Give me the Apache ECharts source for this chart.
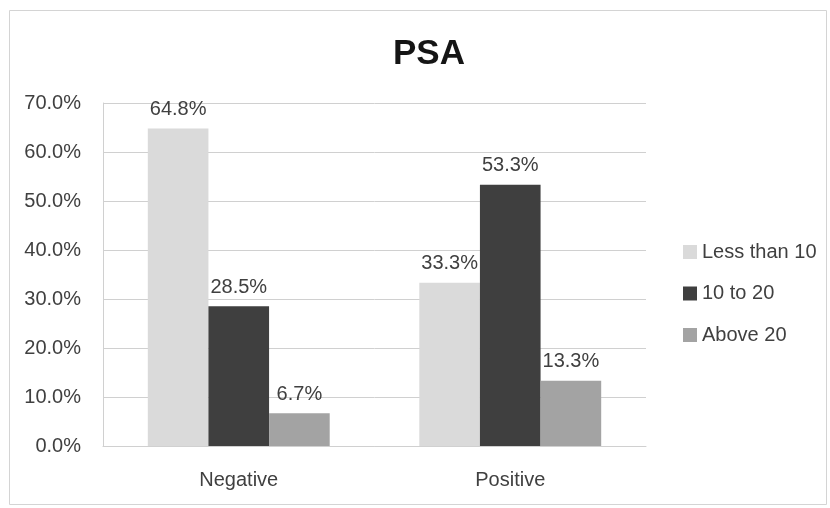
<!DOCTYPE html>
<html>
<head>
<meta charset="utf-8">
<script src="https://cdn.jsdelivr.net/npm/echarts@6/dist/echarts.min.js"></script>
<style>
  html, body { margin: 0; padding: 0; background: #fff; }
  #chart { width: 830px; height: 508px; }
</style>
</head>
<body>
<div id="chart"></div>
<script>
// PSA level distribution by test result
const categories = ['Negative', 'Positive'];
const seriesNames = ['Less than 10', '10 to 20', 'Above 20'];
const lessThan10 = [64.8, 33.3];
const tenTo20 = [28.5, 53.3];
const above20 = [6.7, 13.3];
const yTicks = [0, 10, 20, 30, 40, 50, 60, 70];

const colors = ['#dadada', '#3f3f3f', '#a3a3a3'];
const textColor = '#404040';
const font = '"Liberation Sans", Arial, sans-serif';

const values = [lessThan10, tenTo20, above20];

const chart = echarts.init(document.getElementById('chart'), null, { renderer: 'canvas' });

chart.setOption({
  animation: false,
  backgroundColor: '#ffffff',
  title: {
    text: 'PSA',
    left: 424,
    top: 32,
    textAlign: 'center',
    textStyle: { fontFamily: font, fontWeight: 'bold', fontSize: 35, color: '#151515' }
  },
  graphic: [{
    type: 'rect',
    shape: { x: 9.5, y: 10.5, width: 817, height: 494 },
    style: { fill: 'none', stroke: '#d4d4d4', lineWidth: 1 },
    silent: true
  }],
  legend: {
    orient: 'vertical',
    left: 683,
    top: 242,
    padding: 0,
    itemWidth: 14,
    itemHeight: 14,
    itemGap: 21.5,
    icon: 'rect',
    textStyle: { fontFamily: font, fontSize: 20, color: textColor },
    data: seriesNames
  },
  grid: { left: 103, right: 184, top: 103, bottom: 62, containLabel: false },
  xAxis: {
    type: 'category',
    data: categories,
    axisLine: { show: true, lineStyle: { color: '#d0d0d0', width: 1 } },
    axisTick: { show: false },
    axisLabel: { fontFamily: font, fontSize: 20, color: textColor, margin: 24 }
  },
  yAxis: {
    type: 'value',
    min: yTicks[0],
    max: yTicks[yTicks.length - 1],
    interval: 10,
    axisLine: { show: true, lineStyle: { color: '#d0d0d0', width: 1 } },
    axisTick: { show: false },
    splitLine: { lineStyle: { color: '#d0d0d0', width: 1 } },
    axisLabel: {
      fontFamily: font, fontSize: 20, color: textColor, margin: 22,
      formatter: v => v.toFixed(1) + '%'
    }
  },
  series: seriesNames.map((name, i) => ({
    name,
    type: 'bar',
    data: values[i],
    barGap: '0%',
    barCategoryGap: '33%',
    itemStyle: { color: colors[i] },
    label: {
      show: true,
      position: 'top',
      distance: 9,
      fontFamily: font,
      fontSize: 20,
      color: textColor,
      formatter: p => p.value.toFixed(1) + '%'
    }
  }))
});
</script>
</body>
</html>
